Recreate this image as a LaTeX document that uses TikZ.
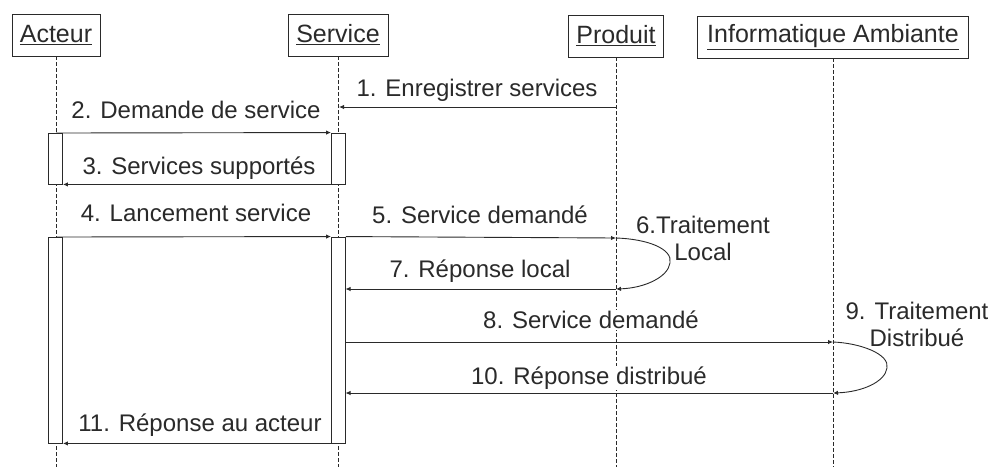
\documentclass[tikz,border=0pt]{standalone}
\usepackage{fontspec}
\setmainfont{Liberation Sans}
\usetikzlibrary{arrows.meta}
\definecolor{ink}{HTML}{2A2A2A}
\begin{document}
\begin{tikzpicture}[x=1pt,y=-1pt,
  every node/.style={text=ink, font=\fontsize{24}{27}\selectfont},
  head/.style={draw=ink, line width=0.9pt, minimum height=42pt, inner sep=2pt, font=\fontsize{25}{28}\selectfont},
  life/.style={draw=ink, line width=0.9pt, dash pattern=on 4pt off 2pt},
  act/.style={draw=ink, fill=white, line width=0.9pt, minimum width=14pt, inner sep=0pt},
  msg/.style={draw=ink, line width=0.9pt, -{Latex[length=5pt,width=4.5pt]}},
  lbl/.style={inner sep=1pt, fill=white, align=center},
  note/.style={inner sep=0pt, align=center}]
\useasboundingbox (0,0) rectangle (990,467);
% headers
\node[head, minimum width=88pt] (acteur) at (56,35) {\underline{Acteur}};
\node[head, minimum width=100pt] (service) at (338,35) {\underline{Service}};
\node[head, minimum width=95pt] (produit) at (616,36) {\underline{Produit}};
\node[head, minimum width=271pt] (info) at (833,37) {\underline{Informatique Ambiante}};
% lifeline ends
\coordinate (acteurEnd) at (56,467);
\coordinate (serviceEnd) at (338,467);
\coordinate (produitEnd) at (616,467);
\coordinate (infoEnd) at (833,467);
\draw[life] (acteur.south) -- (acteurEnd);
\draw[life] (service.south) -- (serviceEnd);
\draw[life] (produit.south) -- (produitEnd);
\draw[life] (info.south) -- (infoEnd);
% activations
\node[act, minimum height=51pt] (a1) at (55.5,158.5) {};
\node[act, minimum height=51pt] (a2) at (338.5,158.5) {};
\node[act, minimum height=206pt] (b1) at (55.5,340) {};
\node[act, minimum height=206pt] (b2) at (338.5,340) {};
% message points
\coordinate (m1s) at (616,107);
\coordinate (m1e) at (339,107);
\coordinate (m2s) at (56,133);
\coordinate (m4s) at (56,237);
\coordinate (m5e) at (616,238);
\coordinate (m6tip) at (670,263);
\coordinate (m7s) at (616,289);
\coordinate (m7e) at (345.5,289);
\coordinate (m8s) at (345.5,342);
\coordinate (m8e) at (833,342);
\coordinate (m9tip) at (887,368);
\coordinate (m10s) at (833,393);
\coordinate (m10e) at (345.5,393);
% labels (drawn before the arrows, masking the lifelines)
\node[lbl] (l1) at (477,90) {1. Enregistrer services};
\node[lbl] (l2) at (196,110) {2. Demande de service};
\node[lbl] (l3) at (199,168) {3. Services supportés};
\node[lbl] (l4) at (196,213) {4. Lancement service};
\node[lbl] (l5) at (480,215) {5. Service demandé};
\node[lbl] (l7) at (480,271) {7. Réponse local};
\node[lbl] (l8) at (591,320) {8. Service demandé};
\node[lbl] (l10) at (589,378) {10. Réponse distribué};
\node[lbl] (l11) at (200,425) {11. Réponse au acteur};
\node[note] (l6) at (703,238) {6.Traitement\\Local};
\node[note] (l9) at (917,324) {9. Traitement\\Distribué};
% messages
\draw[msg] (m1s) -- (m1e);
\draw[msg] (m2s) -- (a2.north west);
\draw[msg] (a2.south west) -- (a1.south east);
\draw[msg] (m4s) -- (b2.north west);
\draw[msg] (b2.north east) -- (m5e);
\draw[msg] (m5e) .. controls (648,239) and (673,249) .. (m6tip) .. controls (668,277) and (645,288) .. (m7s);
\draw[msg] (m7s) -- (m7e);
\draw[msg] (m8s) -- (m8e);
\draw[msg] (m8e) .. controls (860,343) and (890,354) .. (m9tip) .. controls (885,382) and (862,392) .. (m10s);
\draw[msg] (m10s) -- (m10e);
\draw[msg] (b2.south west) -- (b1.south east);
\end{tikzpicture}
\end{document}
